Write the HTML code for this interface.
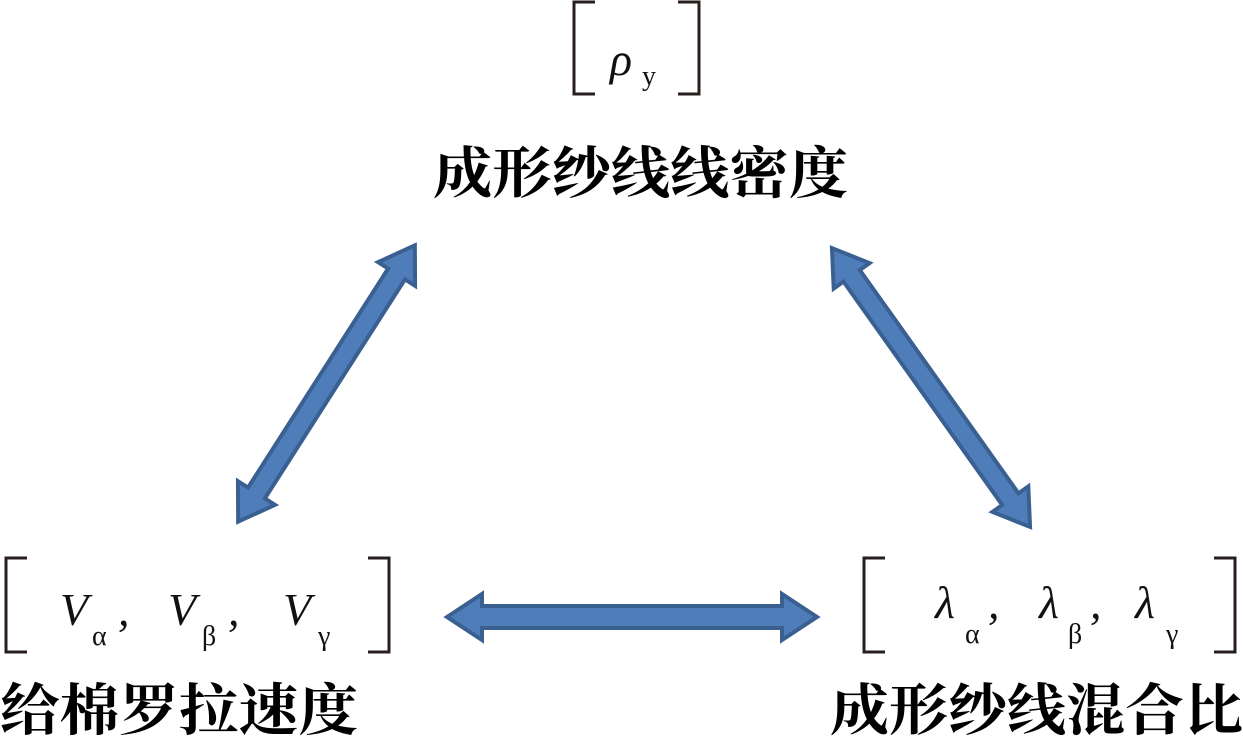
<!DOCTYPE html>
<html><head><meta charset="utf-8"><style>
html,body{margin:0;padding:0;background:#fff;width:1243px;height:737px;overflow:hidden}
svg{display:block}
.cn{font-family:"Liberation Serif","Noto Serif CJK SC","Noto Sans CJK SC",serif;font-size:56px;font-weight:bold;fill:#000}
.m{font-family:"Liberation Serif",serif;font-style:italic;font-size:46px;fill:#111}
.s{font-family:"Liberation Serif",serif;font-size:28px;fill:#111}
</style></head><body>
<svg width="1243" height="737" viewBox="0 0 1243 737">
<defs>
<polygon id="ar" points="0,0 36,-23 36,-11 -36,-11 -36,-23 0,0" />
</defs>
<g fill="none" stroke="#2a1f1f" stroke-width="3">
<polyline points="595,2 574,2 574,94 595,94"/>
<polyline points="678,2 699,2 699,94 678,94"/>
<polyline points="27,558 6,558 6,652 27,652"/>
<polyline points="368,558 389,558 389,652 368,652"/>
<polyline points="885,558 864,558 864,652 885,652"/>
<polyline points="1214,558 1235,558 1235,652 1214,652"/>
</g>
<text class="m" x="610" y="75">ρ</text><text class="s" x="642" y="85">y</text>
<text class="m" x="60" y="625">V</text><text class="s" x="92" y="645">α</text><text class="m" x="118" y="625">,</text>
<text class="m" x="168" y="625">V</text><text class="s" x="202" y="645">β</text><text class="m" x="228" y="625">,</text>
<text class="m" x="283" y="625">V</text><text class="s" x="318" y="645">γ</text>
<text class="m" x="935" y="618">λ</text><text class="s" x="965" y="643">α</text><text class="m" x="988" y="618">,</text>
<text class="m" x="1039" y="618">λ</text><text class="s" x="1068" y="643">β</text><text class="m" x="1090" y="618">,</text>
<text class="m" x="1135" y="618">λ</text><text class="s" x="1166" y="643">γ</text>
<text class="cn" x="433" y="193" textLength="415" lengthAdjust="spacingAndGlyphs">成形纱线线密度</text>
<text class="cn" x="0" y="730" textLength="358" lengthAdjust="spacingAndGlyphs">给棉罗拉速度</text>
<text class="cn" x="830" y="730" textLength="413" lengthAdjust="spacingAndGlyphs">成形纱线混合比</text>
<g fill="#4f7dba" stroke="#3a6091" stroke-width="4" stroke-linejoin="miter">
<g transform="translate(632,617)">
<polygon points="-185,0 -150,-23 -150,-11 150,-11 150,-23 185,0 150,23 150,11 -150,11 -150,23"/>
</g>
<g transform="translate(326.5,383.5) rotate(-57.4)">
<polygon points="-164,0 -130,-22 -130,-10 130,-10 130,-22 164,0 130,22 130,10 -130,10 -130,22"/>
</g>
<g transform="translate(931,387.5) rotate(54.6)">
<polygon points="-171,0 -137,-22 -137,-10 137,-10 137,-22 171,0 137,22 137,10 -137,10 -137,22"/>
</g>
</g>
</svg>
</body></html>
